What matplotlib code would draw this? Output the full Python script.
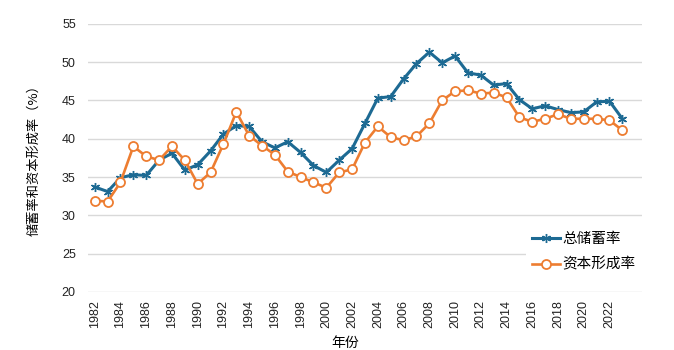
import matplotlib
matplotlib.use("Agg")
import matplotlib.pyplot as plt

plt.rcParams["font.family"] = ["Liberation Sans", "Noto Sans CJK SC", "DejaVu Sans"]

years = list(range(1982, 2024))
savings = [33.7, 33.1, 34.9, 35.3, 35.2, 37.2, 38.1, 35.9, 36.6, 38.4, 40.6,
           41.7, 41.6, 39.6, 38.8, 39.6, 38.2, 36.5, 35.6, 37.2, 38.7, 42.0,
           45.3, 45.5, 47.8, 49.8, 51.3, 49.9, 50.8, 48.6, 48.3, 47.0, 47.2,
           45.1, 43.9, 44.3, 43.8, 43.4, 43.5, 44.8, 44.9, 42.6]
capital = [31.9, 31.8, 34.3, 39.0, 37.7, 37.2, 39.0, 37.2, 34.1, 35.6, 39.3,
           43.5, 40.4, 39.1, 37.9, 35.7, 35.0, 34.3, 33.6, 35.6, 36.0, 39.5,
           41.6, 40.2, 39.8, 40.3, 42.0, 45.0, 46.2, 46.3, 45.9, 46.0, 45.4,
           42.8, 42.2, 42.6, 43.2, 42.6, 42.6, 42.6, 42.4, 41.1]
labels = ["总储蓄率", "资本形成率"]
xticks = list(range(1982, 2023, 2))

BLUE = "#1d6a93"
ORANGE = "#ed7d31"
CJK = ["Noto Sans CJK SC", "DejaVu Sans"]

fig = plt.figure(figsize=(6.74, 3.5), dpi=100)
ax = fig.add_axes([0.131, 0.166, 0.821, 0.766])

ax.plot(years, savings, color=BLUE, lw=2.2, marker=(6, 2, 0), ms=6.5,
        mew=1.0, mec=BLUE, label=labels[0], zorder=3)
ax.plot(years, capital, color=ORANGE, lw=1.9, marker="o", ms=6.5,
        mfc="white", mec=ORANGE, mew=1.3, label=labels[1], zorder=4)

ax.set_ylim(20, 55)
ax.set_yticks(range(20, 56, 5))
ax.set_xlim(1981.5, 2024.5)
ax.set_xticks(xticks)
ax.set_xticklabels([str(y) for y in xticks], rotation=90)
ax.tick_params(axis="both", length=0, labelsize=9, colors="#222222")
ax.tick_params(axis="y", pad=9)
ax.tick_params(axis="x", pad=6)
ax.grid(axis="y", color="#d9d9d9", lw=1.0)
ax.set_axisbelow(True)
for s in ax.spines.values():
    s.set_visible(False)

fig.text(0.05, 0.55, "储蓄率和资本形成率（%）", rotation=90, ha="center",
         va="center", fontsize=9.5, family=CJK)
fig.text(0.512, 0.02, "年份", ha="center", va="center", fontsize=10,
         family=CJK)

leg = ax.legend(loc="center left", bbox_to_anchor=(0.77, 0.28),
                bbox_transform=fig.transFigure, frameon=True, framealpha=1,
                edgecolor="none", fancybox=False, handlelength=1.9,
                handletextpad=0.2, labelspacing=0.75,
                prop={"family": CJK, "size": 10.5})

fig.savefig("out.png", dpi=100)
